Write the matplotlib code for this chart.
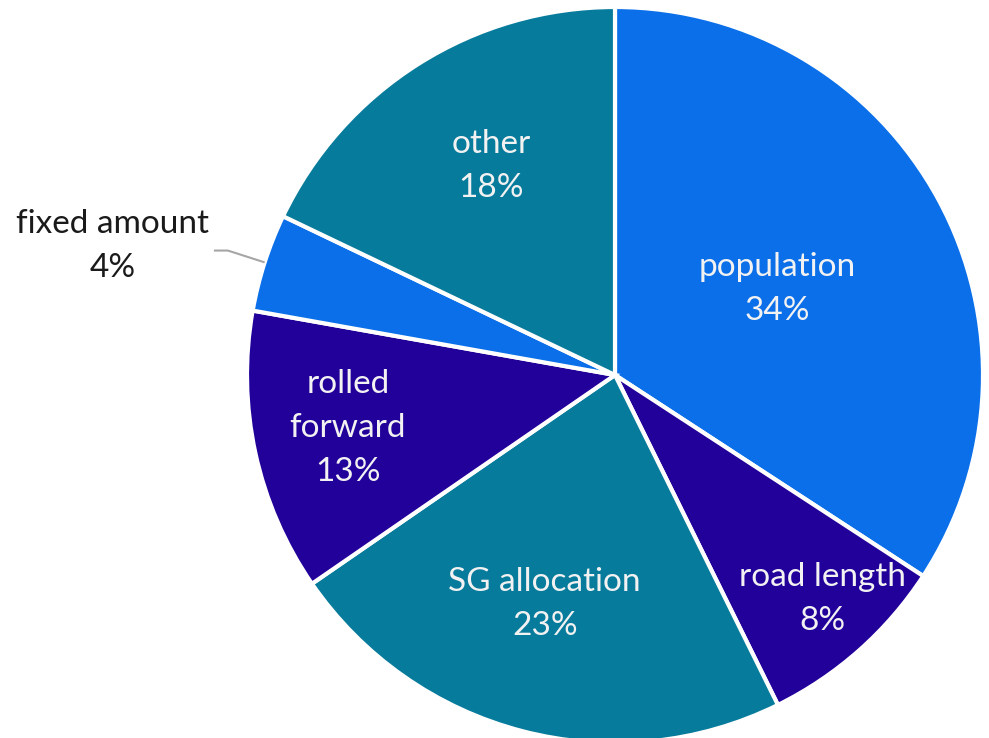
import numpy as np
import matplotlib
matplotlib.use("Agg")
import matplotlib.pyplot as plt

categories = ["population", "road length", "SG allocation", "rolled\nforward", "fixed amount", "other"]
shares = [34.2, 8.5, 22.7, 12.4, 4.3, 17.9]
pct_labels = ["34%", "8%", "23%", "13%", "4%", "18%"]

colors = ["#0A6FE8", "#22009A", "#077B9B", "#22009A", "#0A6FE8", "#077B9B"]
label_r = [0.50, 0.83, 0.65, 0.74, None, 0.66]
label_da = [-0.5, 1.2, -2.5, -1.0, 0.0, -1.5]

plt.rcParams['font.family'] = ['Lato', 'DejaVu Sans']

fig = plt.figure(figsize=(9.89, 7.38), dpi=100)
ax = fig.add_axes([0, 0, 1, 1])
ax.axis("off")

cx, cy, R = 615, 363, 368
wedges, _ = ax.pie(shares, colors=colors, startangle=90, counterclock=False,
                   center=(cx, cy), radius=R,
                   wedgeprops=dict(edgecolor="white", linewidth=3))
ax.set_xlim(0, 989)
ax.set_ylim(0, 738)
ax.set_aspect("equal")

for w, name, pct, r, da in zip(wedges, categories, pct_labels, label_r, label_da):
    mid = np.deg2rad((w.theta1 + w.theta2) / 2 + da)
    if r is None:
        # outside label with leader line
        x0, y0 = cx + R * np.cos(mid), cy + R * np.sin(mid)
        x1, y1 = cx + 1.105 * R * np.cos(mid), cy + 1.105 * R * np.sin(mid)
        x2 = x1 - 14
        ax.plot([x0, x1, x2], [y0, y1, y1], color="#A6A6A6", lw=1.5,
                solid_capstyle="butt")
        ax.text(x2 - 5, y1 + 5, name + "\n" + pct, ha="right", va="center",
                multialignment="center", fontsize=24, color="#1a1a1a",
                linespacing=1.58)
        continue
    x, y = cx + r * R * np.cos(mid), cy + r * R * np.sin(mid)
    ax.text(x, y, name + "\n" + pct, ha="center", va="center",
            fontsize=24, color="#F2F2F2", linespacing=1.58)

fig.savefig("out.png", dpi=100)
